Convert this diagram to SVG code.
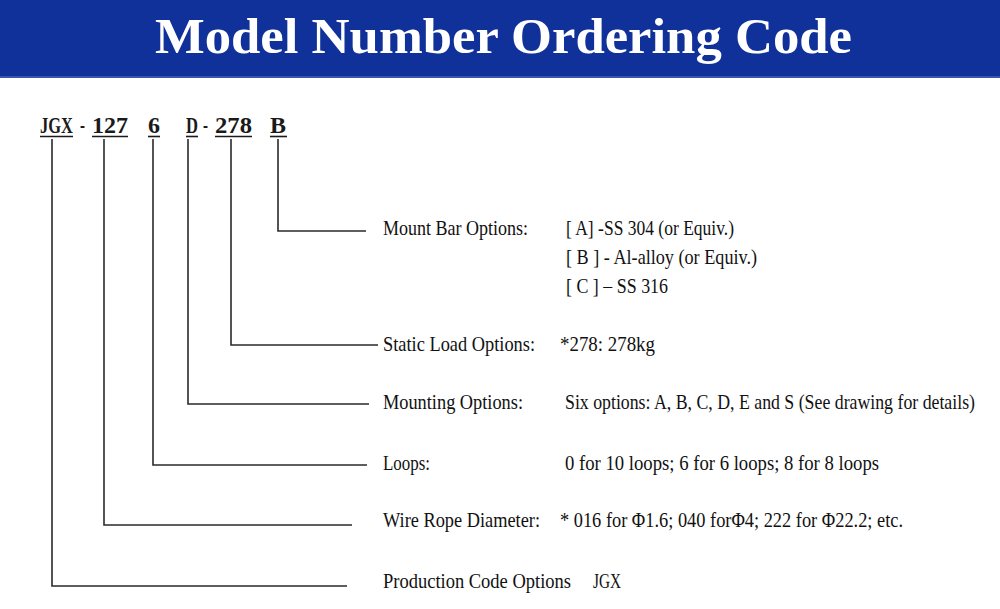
<svg xmlns="http://www.w3.org/2000/svg" width="1000" height="609" viewBox="0 0 1000 609">
<style>
.title{font-family:"Liberation Serif",serif;font-weight:bold;font-size:51px;fill:#ffffff}
.code{font-family:"Liberation Serif",serif;font-weight:bold;font-size:24px;fill:#1a1a1a}
.lbl{font-family:"Liberation Serif",serif;font-size:21px;fill:#111111}
.ln{fill:none;stroke:#2a2a2a;stroke-width:1.6}
.ul{stroke:#1a1a1a;stroke-width:1.6}
</style>
<rect x="0" y="0" width="1000" height="609" fill="#ffffff"/>
<g id="header">
<rect x="0" y="0" width="1000" height="78" fill="#10309a"/>
<rect x="0" y="76" width="1000" height="2" fill="#3a55b0"/>
<text class="title" x="155" y="53" textLength="697" lengthAdjust="spacingAndGlyphs">Model Number Ordering Code</text>
</g>
<g id="code">
<text class="code" x="40" y="133" textLength="33" lengthAdjust="spacingAndGlyphs">JGX</text>
<text class="code" x="80" y="133" textLength="5" lengthAdjust="spacingAndGlyphs">-</text>
<text class="code" x="92" y="133" textLength="36" lengthAdjust="spacingAndGlyphs">127</text>
<text class="code" x="148" y="133" textLength="12" lengthAdjust="spacingAndGlyphs">6</text>
<text class="code" x="186" y="133" textLength="12" lengthAdjust="spacingAndGlyphs">D</text>
<text class="code" x="203" y="133" textLength="5" lengthAdjust="spacingAndGlyphs">-</text>
<text class="code" x="215" y="133" textLength="37" lengthAdjust="spacingAndGlyphs">278</text>
<text class="code" x="270" y="133" textLength="16" lengthAdjust="spacingAndGlyphs">B</text>
<line class="ul" x1="40" y1="136.5" x2="73" y2="136.5"/>
<line class="ul" x1="92" y1="136.5" x2="128" y2="136.5"/>
<line class="ul" x1="148" y1="136.5" x2="160" y2="136.5"/>
<line class="ul" x1="186" y1="136.5" x2="198" y2="136.5"/>
<line class="ul" x1="215" y1="136.5" x2="252" y2="136.5"/>
<line class="ul" x1="270" y1="136.5" x2="287" y2="136.5"/>
</g>
<g id="connectors">
<polyline class="ln" points="278,139 278,231 366,231"/>
<polyline class="ln" points="231,139 231,345 378,345"/>
<polyline class="ln" points="188,139 188,404 369,404"/>
<polyline class="ln" points="153,139 153,465 367,465"/>
<polyline class="ln" points="104,139 104,525 352,525"/>
<polyline class="ln" points="52,139 52,586 347,586"/>
</g>
<g id="mount-bar">
<text class="lbl" x="383" y="235" textLength="145" lengthAdjust="spacingAndGlyphs">Mount Bar Options:</text>
<text class="lbl" x="566" y="235" textLength="168" lengthAdjust="spacingAndGlyphs">[ A] -SS 304 (or Equiv.)</text>
<text class="lbl" x="566" y="264" textLength="191" lengthAdjust="spacingAndGlyphs">[ B ] - Al-alloy (or Equiv.)</text>
<text class="lbl" x="566" y="293" textLength="102" lengthAdjust="spacingAndGlyphs">[ C ] – SS 316</text>
</g>
<g id="static-load">
<text class="lbl" x="383" y="351" textLength="152" lengthAdjust="spacingAndGlyphs">Static Load Options:</text>
<text class="lbl" x="560" y="351" textLength="95" lengthAdjust="spacingAndGlyphs">*278: 278kg</text>
</g>
<g id="mounting">
<text class="lbl" x="383" y="409" textLength="140" lengthAdjust="spacingAndGlyphs">Mounting Options:</text>
<text class="lbl" x="565" y="409" textLength="410" lengthAdjust="spacingAndGlyphs">Six options: A, B, C, D, E and S (See drawing for details)</text>
</g>
<g id="loops">
<text class="lbl" x="383" y="470" textLength="47" lengthAdjust="spacingAndGlyphs">Loops:</text>
<text class="lbl" x="565" y="470" textLength="314" lengthAdjust="spacingAndGlyphs">0 for 10 loops; 6 for 6 loops; 8 for 8 loops</text>
</g>
<g id="wire-rope">
<text class="lbl" x="383" y="527" textLength="157" lengthAdjust="spacingAndGlyphs">Wire Rope Diameter:</text>
<text class="lbl" x="560" y="527" textLength="343" lengthAdjust="spacingAndGlyphs">* 016 for Φ1.6; 040 forΦ4; 222 for Φ22.2; etc.</text>
</g>
<g id="production">
<text class="lbl" x="383" y="588" textLength="188" lengthAdjust="spacingAndGlyphs">Production Code Options</text>
<text class="lbl" x="593" y="588" textLength="28" lengthAdjust="spacingAndGlyphs">JGX</text>
</g>
</svg>
